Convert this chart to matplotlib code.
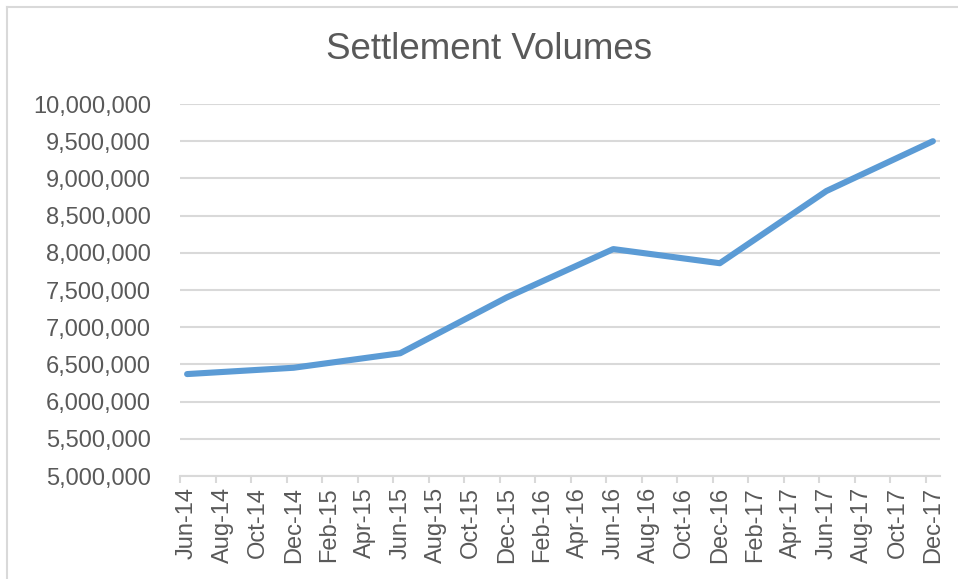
import numpy as np
import matplotlib.pyplot as plt
from matplotlib.ticker import FuncFormatter
from matplotlib.lines import Line2D

plt.rcParams['font.family'] = ['Liberation Sans', 'DejaVu Sans']

months = ['Jun-14', 'Aug-14', 'Oct-14', 'Dec-14', 'Feb-15', 'Apr-15', 'Jun-15', 'Aug-15',
          'Oct-15', 'Dec-15', 'Feb-16', 'Apr-16', 'Jun-16', 'Aug-16', 'Oct-16', 'Dec-16',
          'Feb-17', 'Apr-17', 'Jun-17', 'Aug-17', 'Oct-17', 'Dec-17']
point_months = ['Jun-14', 'Dec-14', 'Jun-15', 'Dec-15', 'Jun-16', 'Dec-16', 'Jun-17', 'Dec-17']
volumes = [6370000, 6455000, 6650000, 7400000, 8050000, 7860000, 8830000, 9500000]

text_col = '#595959'
grid_col = '#D9D9D9'

fig = plt.figure(figsize=(9.58, 5.79), dpi=100)
ax = fig.add_axes([180 / 958, 1 - 476 / 579, 760 / 958, 372 / 579])

x = [months.index(m) for m in point_months]
ax.plot(x, volumes, color='#5B9BD5', lw=4.4, solid_capstyle='round', solid_joinstyle='round', zorder=3)

ax.set_xlim(-0.2, 21.2)
ax.set_ylim(5000000, 10000000)
ax.set_yticks(np.arange(5000000, 10000001, 500000))
ax.yaxis.set_major_formatter(FuncFormatter(lambda v, p: f'{int(v):,}'))
ax.set_xticks(range(len(months)))
ax.set_xticklabels(months, rotation=90)
ax.set_xticks(np.arange(len(months)) - 0.2, minor=True)

ax.grid(axis='y', color=grid_col, lw=1.5)
ax.set_axisbelow(True)
for s in ['top', 'right', 'left']:
    ax.spines[s].set_visible(False)
ax.spines['bottom'].set_color(grid_col)
ax.spines['bottom'].set_linewidth(1.5)

ax.tick_params(axis='y', length=0, pad=21, labelsize=17, labelcolor=text_col)
ax.tick_params(axis='x', which='major', length=0, pad=8, labelsize=17, labelcolor=text_col)
ax.tick_params(axis='x', which='minor', length=5, width=1.5, color=grid_col)

fig.text(0.511, 0.914, 'Settlement Volumes', ha='center', va='center', fontsize=26.5, color=text_col)

# chart area border (top and left visible)
fig.add_artist(Line2D([7 / 958, 1], [1 - 7 / 579, 1 - 7 / 579], transform=fig.transFigure, color=grid_col, lw=1.5))
fig.add_artist(Line2D([7 / 958, 7 / 958], [0, 1 - 7 / 579], transform=fig.transFigure, color=grid_col, lw=1.5))

plt.savefig('out.png', dpi=100)
